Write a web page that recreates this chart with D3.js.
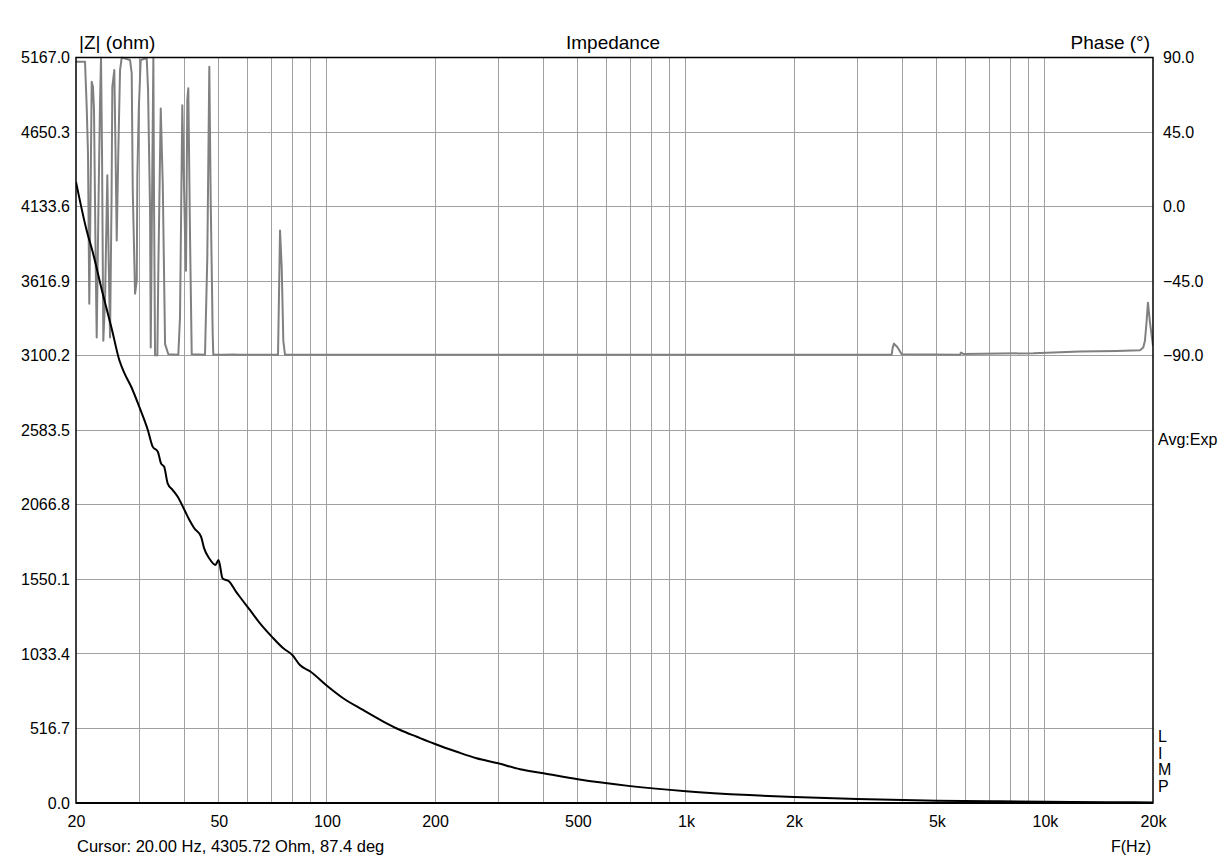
<!DOCTYPE html>
<html><head><meta charset="utf-8">
<script src="https://cdn.jsdelivr.net/npm/d3@7"></script>
<style>
html,body{margin:0;padding:0;background:#fff;}
svg text{font-family:"Liberation Sans",Arial,sans-serif;fill:#000;}
</style></head>
<body><svg id="c" width="1228" height="860"></svg>
<script>
// ---- data ----
const impFreq = [20,21.4,22.3,23.6,25.2,26.4,27.3,28.5,30.0,31.7,32.7,33.8,34.5,35.2,36.0,37.2,38.4,40.1,41.4,42.7,44.6,45.5,47.0,48.9,49.9,51.2,53.5,55.8,57.6,61.0,65.1,70.2,75.6,80.1,84.1,90.1,100.2,111,126,144,160,178,200,230,261,300,345,401,500,700,1000,1500,2000,3000,5000,7000,10000,15000,20000];
const impOhm  = [4305,3971,3812,3556,3278,3070,2978,2885,2747,2585,2470,2435,2354,2331,2216,2169,2123,2031,1961,1904,1846,1765,1696,1650,1684,1557,1534,1465,1419,1338,1245,1153,1072,1026,956,910,811,726,645,563,506,459,409,355,310,275,234,206,164,117,82,55,41,27,16,12,8,5.5,4];

const phFreq = [20,21.19,21.42,21.60,21.78,21.95,22.12,22.30,22.45,22.67,22.84,23.11,23.33,23.48,23.63,23.83,24.09,24.45,24.64,24.88,25.12,25.25,25.57,25.77,25.97,26.24,26.53,26.82,27.69,28.28,28.59,28.78,29.21,29.53,29.64,29.91,30.29,31.48,31.75,32.16,32.30,32.57,32.85,32.99,33.21,33.70,33.92,34.44,34.89,35.41,36.16,38.55,38.97,39.55,40.24,40.50,40.84,41.10,41.56,42.01,45.75,46.43,47.03,47.45,48.06,48.25,51.34,55,57,73.07,73.54,74.02,74.83,75.60,76.43,1000,2400,3742,3766,3798,3880,3991,5800,5838,5924,9284,12520,15844,18394,18788,18994,19202,19362,19618,20000];
const phDeg  = [87.5,87.5,60.2,32.2,-58.6,3.7,75.3,72.3,58.2,-26.5,-79.0,3.7,62.5,90,34,-81,-56.8,18.9,-26.5,-79.0,3.7,72.3,82.4,34,-20.5,34,82.4,90,89.1,88.5,80.4,9.8,-52.6,-44.7,17.8,58.2,88.5,89.7,70.3,-2.3,-85.1,3.7,90,3.7,-89.8,-89.8,-36.7,59.2,13.8,-83.0,-89.1,-89.5,-66.9,61.2,-16.4,-38.7,64.3,71.4,-18.5,-89.1,-89.5,-30.6,84.4,3.7,-77.0,-89.5,-89.5,-89.3,-89.5,-89.5,-52.6,-14.4,-36.7,-81.0,-89.5,-89.5,-89.4,-89.4,-85.1,-82.7,-84.7,-89.1,-89.4,-88.1,-88.9,-88.5,-87.5,-87.1,-86.7,-85.1,-81.0,-68.9,-58.0,-70,-84];

const zTicks = [0,516.7,1033.4,1550.1,2066.8,2583.5,3100.2,3616.9,4133.6,4650.3,5167.0];
const phaseTicks = [90,45,0,-45,-90];
const freqTicks = [20,50,100,200,500,1000,2000,5000,10000,20000];
const freqLabels = ["20","50","100","200","500","1k","2k","5k","10k","20k"];
const gridFreqs = [30,40,50,60,70,80,90,100,200,300,400,500,600,700,800,900,1000,2000,3000,4000,5000,6000,7000,8000,9000,10000];
const sideLetters = ["L","I","M","P"];

// ---- layout ----
const L=76, R=1153, T=57.5, B=803;
const svg = d3.select("#c");
const x = d3.scaleLog().domain([20,20000]).range([L,R]);
const yZ = d3.scaleLinear().domain([0,5167]).range([B,T]);
const yP = d3.scaleLinear().domain([-360,90]).range([B,T]);

// grid
svg.append("g").selectAll("line").data(gridFreqs).join("line")
  .attr("x1",d=>x(d)).attr("x2",d=>x(d)).attr("y1",T).attr("y2",B)
  .attr("stroke","#a0a0a0").attr("stroke-width",1).attr("shape-rendering","crispEdges");
svg.append("g").selectAll("line").data(zTicks.slice(1,-1)).join("line")
  .attr("x1",L).attr("x2",R).attr("y1",d=>yZ(d)).attr("y2",d=>yZ(d))
  .attr("stroke","#a0a0a0").attr("stroke-width",1).attr("shape-rendering","crispEdges");

// clip
svg.append("clipPath").attr("id","pc").append("rect").attr("x",L).attr("y",T-1).attr("width",R-L).attr("height",B-T+1);

// phase line
const phPts = phFreq.map((f,i)=>[f,Math.min(90,phDeg[i])]);
svg.append("path").datum(phPts).attr("clip-path","url(#pc)")
  .attr("d",d3.line().x(d=>x(d[0])).y(d=>yP(d[1])))
  .attr("fill","none").attr("stroke","#808080").attr("stroke-width",2).attr("stroke-linejoin","round");

// impedance line
const zPts = impFreq.map((f,i)=>[f,impOhm[i]]);
svg.append("path").datum(zPts).attr("clip-path","url(#pc)")
  .attr("d",d3.line().curve(d3.curveMonotoneX).x(d=>x(d[0])).y(d=>yZ(d[1])))
  .attr("fill","none").attr("stroke","#000").attr("stroke-width",2).attr("stroke-linejoin","round");

// frame
svg.append("rect").attr("x",L).attr("y",T).attr("width",R-L).attr("height",B-T)
  .attr("fill","none").attr("stroke","#000").attr("stroke-width",1.5);
svg.append("line").attr("x1",L).attr("x2",R).attr("y1",B).attr("y2",B).attr("stroke","#000").attr("stroke-width",2);

// axes
const fs = "16px";
const ax1 = svg.append("g").attr("transform",`translate(${L},0)`)
  .call(d3.axisLeft(yZ).tickValues(zTicks).tickFormat(d3.format(".1f")).tickSize(0).tickPadding(6));
const ax2 = svg.append("g").attr("transform",`translate(${R},0)`)
  .call(d3.axisRight(yP).tickValues(phaseTicks).tickFormat(d3.format(".1f")).tickSize(0).tickPadding(10));
const ax3 = svg.append("g").attr("transform",`translate(0,${B})`)
  .call(d3.axisBottom(x).tickValues(freqTicks).tickFormat((d,i)=>freqLabels[i]).tickSize(0).tickPadding(13));
[ax1,ax2,ax3].forEach(a=>{a.select(".domain").remove();a.selectAll("text").attr("font-size",fs).attr("font-family",null);});

// titles
svg.append("text").attr("x",613).attr("y",49).attr("text-anchor","middle").attr("font-size","19px").text("Impedance");
svg.append("text").attr("x",79).attr("y",49).attr("font-size","19px").text("|Z| (ohm)");
svg.append("text").attr("x",1150).attr("y",49).attr("text-anchor","end").attr("font-size","19px").text("Phase (°)");
svg.append("text").attr("x",1158).attr("y",445).attr("font-size","16px").text("Avg:Exp");
svg.append("g").selectAll("text").data(sideLetters).join("text")
  .attr("x",1158).attr("y",(d,i)=>742+i*16.5).attr("font-size","16px").text(d=>d);
svg.append("text").attr("x",1151).attr("y",852).attr("text-anchor","end").attr("font-size","16px").text("F(Hz)");
svg.append("text").attr("x",77).attr("y",852).attr("font-size","16.5px").text("Cursor: 20.00 Hz, 4305.72 Ohm, 87.4 deg");
</script></body></html>
